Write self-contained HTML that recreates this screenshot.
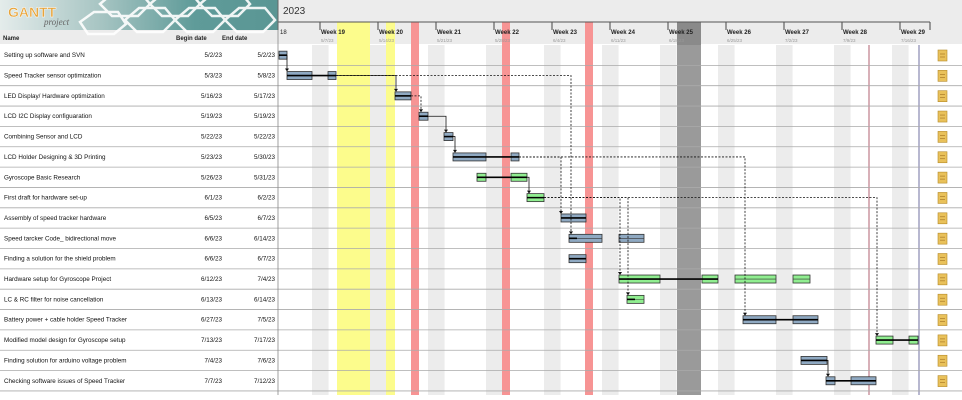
<!DOCTYPE html>
<html><head><meta charset="utf-8"><style>
body{margin:0;background:#fff;width:962px;height:400px;overflow:hidden}
svg{display:block;font-family:"Liberation Sans",sans-serif}
</style></head><body>
<svg width="962" height="400" xmlns="http://www.w3.org/2000/svg">
<defs>
<linearGradient id="lg" x1="0" x2="1"><stop offset="0" stop-color="#e4eceb"/><stop offset="0.35" stop-color="#a9c6c4"/><stop offset="0.7" stop-color="#5f9b99"/><stop offset="1" stop-color="#5a9694"/></linearGradient>
</defs>
<rect x="0" y="0" width="962" height="400" fill="#fff"/>
<rect x="278" y="0" width="684" height="44" fill="#ececec"/>
<rect x="0" y="30" width="278" height="14" fill="#ececec"/>
<rect x="0" y="0" width="278" height="30" fill="url(#lg)"/>
<g fill="none" stroke="#fff" stroke-width="2.5" opacity="0.9">
<polygon points="100,4 114,-8 140,-8 150,4 138,16 112,16"/>
<polygon points="150,4 164,-8 190,-8 200,4 188,16 162,16"/>
<polygon points="125,20 139,8 165,8 175,20 163,32 137,32"/>
<polygon points="175,20 189,8 215,8 225,20 213,32 187,32"/>
<polygon points="200,4 214,-8 240,-8 250,4 238,16 212,16"/>
<polygon points="225,20 239,8 265,8 275,20 263,32 237,32"/>
<polygon points="80,22 94,12 118,12 126,24 114,34 88,34"/>
</g>
<text x="8" y="17" font-size="14" fill="#e8a43a" font-weight="bold" stroke="#fff" stroke-width="0.4">GANTT</text>
<text x="44" y="25" font-size="9" fill="#666" font-style="italic" font-family="Liberation Serif,serif">project</text>
<text x="283" y="14" font-size="10" fill="#333">2023</text>
<g id="bg"></g>
<g id="weeks" font-size="6" fill="#222"></g>
<line x1="278" y1="22" x2="930" y2="22" stroke="#555"/>
<line x1="278" y1="0" x2="278" y2="30" stroke="#666"/>
<g font-size="6" fill="#222" font-weight="bold">
<text x="3" y="40">Name</text><text x="176" y="40">Begin date</text><text x="222" y="40">End date</text>
<text x="280" y="34" font-weight="normal">18</text>
</g>
<g id="rows"></g>
<g id="bars"></g>
<script>
const ns="http://www.w3.org/2000/svg";
function el(p,t,a,txt){const e=document.createElementNS(ns,t);for(const k in a)e.setAttribute(k,a[k]);if(txt!=null)e.textContent=txt;document.getElementById(p).appendChild(e);return e;}
// background
for(let i=0;i<11;i++){el("bg","rect",{x:312+58*i,y:45,width:16.6,height:350,fill:"#ececec"});}
[[337,33,"#fcfc8c"],[386,9,"#fcfc8c"],[411,8,"#f79494"],[502,8,"#f79494"],[585,8,"#f79494"],[677,24,"#9a9a9a"]].forEach(r=>{el("bg","rect",{x:r[0],y:22,width:r[1],height:373,fill:r[2]});});
el("bg","rect",{x:677,y:22,width:24,height:23,fill:"#8a8a8a"});
el("bg","line",{x1:869,y1:45,x2:869,y2:395,stroke:"#b06070"});
el("bg","line",{x1:919,y1:45,x2:919,y2:395,stroke:"#7070a0"});
el("bg","rect",{x:930,y:45,width:32,height:350,fill:"#fff"});
const wd=["5/7/23","5/14/23","5/21/23","5/28/23","6/4/23","6/11/23","6/18/23","6/25/23","7/2/23","7/9/23","7/16/23"];
for(let i=0;i<11;i++){const x=320+58*i;
el("weeks","line",{x1:x,y1:22,x2:x,y2:30,stroke:"#444"});
el("weeks","text",{x:x+1,y:34,"font-weight":"bold"},"Week "+(19+i));
el("weeks","text",{x:x+1,y:42,"font-size":"4.5",fill:"#999"},wd[i]);}
el("weeks","line",{x1:930,y1:22,x2:930,y2:30,stroke:"#444"});
const T=[["Setting up software and SVN","5/2/23","5/2/23"],["Speed Tracker sensor optimization","5/3/23","5/8/23"],["LED Display/ Hardware optimization","5/16/23","5/17/23"],["LCD I2C Display configuaration","5/19/23","5/19/23"],["Combining Sensor and LCD","5/22/23","5/22/23"],["LCD Holder Designing & 3D Printing","5/23/23","5/30/23"],["Gyroscope Basic Research","5/26/23","5/31/23"],["First draft for hardware set-up","6/1/23","6/2/23"],["Assembly of speed tracker hardware","6/5/23","6/7/23"],["Speed tarcker Code_ bidirectional move","6/6/23","6/14/23"],["Finding a solution for the shield problem","6/6/23","6/7/23"],["Hardware setup for Gyroscope Project","6/12/23","7/4/23"],["LC & RC filter for noise cancellation","6/13/23","6/14/23"],["Battery power + cable holder Speed Tracker","6/27/23","7/5/23"],["Modified model design for Gyroscope setup","7/13/23","7/17/23"],["Finding solution for arduino voltage problem","7/4/23","7/6/23"],["Checking software issues of Speed Tracker","7/7/23","7/12/23"]];
const H=20.35,Y0=45;
T.forEach((t,i)=>{const y=Y0+H*i,c=y+H/2+2;
el("rows","text",{x:4,y:c,"font-size":"6.3",fill:"#111"},t[0]);
el("rows","text",{x:222,y:c,"font-size":"6.3",fill:"#111","text-anchor":"end"},t[1]);
el("rows","text",{x:275,y:c,"font-size":"6.3",fill:"#111","text-anchor":"end"},t[2]);
el("rows","line",{x1:0,y1:y+H,x2:962,y2:y+H,stroke:"#aaa","stroke-width":0.8});
el("rows","rect",{x:938,y:y+5,width:9,height:11,fill:"#e9c15a",stroke:"#b58a2a","stroke-width":0.6});
el("rows","line",{x1:940,y1:y+9,x2:945,y2:y+9,stroke:"#a07020","stroke-width":0.6});
el("rows","line",{x1:940,y1:y+12,x2:945,y2:y+12,stroke:"#a07020","stroke-width":0.6});
});
el("rows","line",{x1:278,y1:30,x2:278,y2:395,stroke:"#888","stroke-width":0.8});
const B="#8fa9c2",G="#90ee90";
const bars=[[0,[[279,287]],B],[1,[[287,312],[328,336]],B,[287,336]],[2,[[395,411]],B],[3,[[419,428]],B],[4,[[444,453]],B],[5,[[453,486],[511,519]],B,[453,519]],[6,[[477,486],[511,527]],G,[477,527]],[7,[[527,544]],G],[8,[[561,586]],B],[9,[[569,602],[619,644]],B,[569,577]],[10,[[569,586]],B],[11,[[619,660],[702,718],[735,776],[793,810]],G,[619,718]],[12,[[627,644]],G,[627,635]],[13,[[743,776],[793,818]],B,[743,818]],[14,[[876,893],[909,918]],G],[15,[[801,827]],B],[16,[[826,835],[851,876]],B,[826,876]]];
bars.forEach(b=>{const y=Y0+H*b[0]+H/2;
b[1].forEach(s=>{el("bars","rect",{x:s[0],y:y-4,width:s[1]-s[0],height:8,fill:b[2],stroke:"#333","stroke-width":0.8});
el("bars","line",{x1:s[0],y1:y,x2:s[1],y2:y,stroke:"#333","stroke-width":0.6});});
const p=b[3]||[b[1][0][0],b[1][b[1].length-1][1]];
el("bars","line",{x1:p[0],y1:y,x2:p[1],y2:y,stroke:"#000","stroke-width":1.6});});
function cy(i){return Y0+H*i+H/2;}
function dep(x1,r1,x2,r2,dash){const y1=cy(r1),y2=cy(r2)-4;
el("bars","polyline",{points:`${x1},${y1} ${x2},${y1} ${x2},${y2-3}`,fill:"none",stroke:"#111","stroke-width":0.8,"stroke-dasharray":dash?"2,1.5":"none"});
el("bars","polygon",{points:`${x2-2},${y2-3} ${x2+2},${y2-3} ${x2},${y2}`,fill:"#111"});}
dep(287,0,287,1,0);dep(336,1,396,2,0);dep(336,1,571,9,1);dep(411,2,421,3,1);dep(428,3,446,4,0);dep(453,4,455,5,0);
dep(519,5,561,8,1);dep(519,5,745,13,1);dep(527,6,529,7,0);dep(544,7,877,14,1);dep(544,7,620,11,1);dep(544,7,628,12,1);dep(827,15,828,16,0);
</script>
</svg>
</body></html>
